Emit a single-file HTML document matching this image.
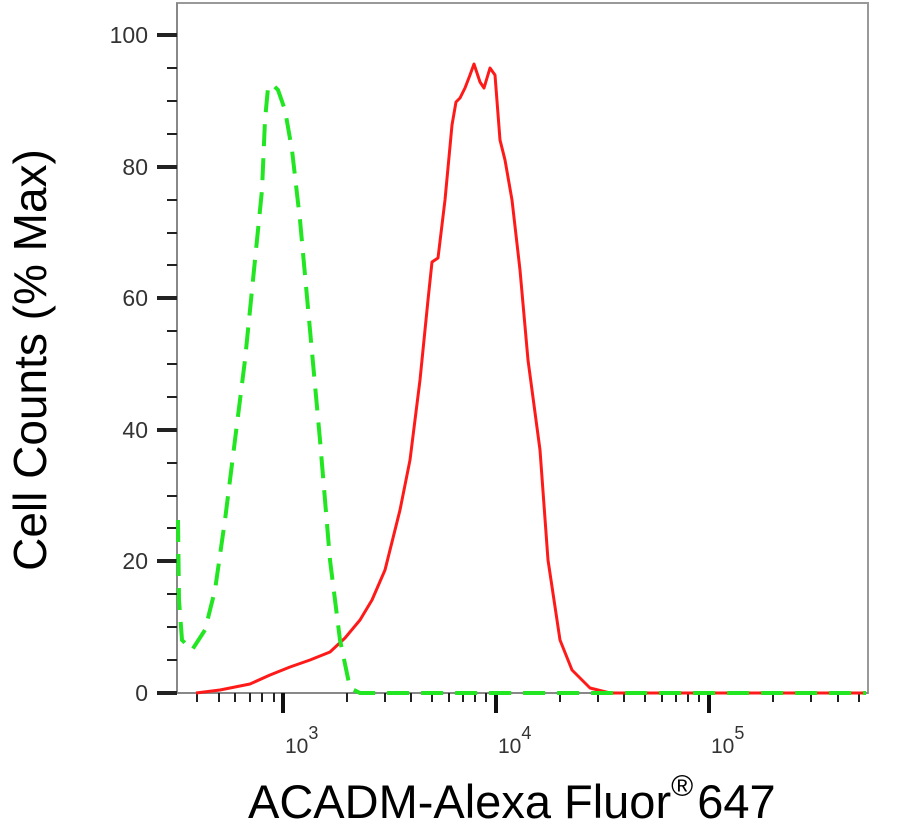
<!DOCTYPE html>
<html><head><meta charset="utf-8"><style>
html,body{margin:0;padding:0;background:#fff;}
svg{display:block;font-family:"Liberation Sans",Arial,sans-serif;}
</style></head><body>
<svg width="921" height="828" viewBox="0 0 921 828">
<rect x="177" y="3" width="691" height="690" fill="none" stroke="#999" stroke-width="2"/>
<line x1="177" y1="3" x2="177" y2="694" stroke="#888" stroke-width="2"/>
<line x1="176" y1="693" x2="868" y2="693" stroke="#888" stroke-width="2"/>
<g stroke="#222" stroke-width="4">
<line x1="157" y1="35" x2="177" y2="35"/><line x1="157" y1="167" x2="177" y2="167"/>
<line x1="157" y1="298" x2="177" y2="298"/><line x1="157" y1="430" x2="177" y2="430"/>
<line x1="157" y1="561" x2="177" y2="561"/><line x1="157" y1="693" x2="177" y2="693"/>
</g>
<g stroke="#222" stroke-width="2">
<line x1="167" y1="68" x2="177" y2="68"/><line x1="167" y1="101" x2="177" y2="101"/><line x1="167" y1="134" x2="177" y2="134"/>
<line x1="167" y1="200" x2="177" y2="200"/><line x1="167" y1="233" x2="177" y2="233"/><line x1="167" y1="265" x2="177" y2="265"/>
<line x1="167" y1="331" x2="177" y2="331"/><line x1="167" y1="364" x2="177" y2="364"/><line x1="167" y1="397" x2="177" y2="397"/>
<line x1="167" y1="463" x2="177" y2="463"/><line x1="167" y1="496" x2="177" y2="496"/><line x1="167" y1="528" x2="177" y2="528"/>
<line x1="167" y1="594" x2="177" y2="594"/><line x1="167" y1="627" x2="177" y2="627"/><line x1="167" y1="660" x2="177" y2="660"/>
</g>
<g font-size="23" fill="#333" text-anchor="end">
<text x="148" y="43">100</text><text x="148" y="175">80</text><text x="148" y="306">60</text>
<text x="148" y="438">40</text><text x="148" y="569">20</text><text x="148" y="701">0</text>
</g>
<g stroke="#222" stroke-width="2">
<line x1="197" y1="693" x2="197" y2="702"/><line x1="219" y1="693" x2="219" y2="702"/><line x1="235" y1="693" x2="235" y2="702"/>
<line x1="250" y1="693" x2="250" y2="702"/><line x1="262" y1="693" x2="262" y2="702"/><line x1="274" y1="693" x2="274" y2="702"/>
<line x1="347" y1="693" x2="347" y2="702"/><line x1="385" y1="693" x2="385" y2="702"/><line x1="411" y1="693" x2="411" y2="702"/>
<line x1="432" y1="693" x2="432" y2="702"/><line x1="449" y1="693" x2="449" y2="702"/><line x1="463" y1="693" x2="463" y2="702"/>
<line x1="475" y1="693" x2="475" y2="702"/><line x1="486" y1="693" x2="486" y2="702"/>
<line x1="560" y1="693" x2="560" y2="702"/><line x1="598" y1="693" x2="598" y2="702"/><line x1="624" y1="693" x2="624" y2="702"/>
<line x1="645" y1="693" x2="645" y2="702"/><line x1="662" y1="693" x2="662" y2="702"/><line x1="676" y1="693" x2="676" y2="702"/>
<line x1="688" y1="693" x2="688" y2="702"/><line x1="699" y1="693" x2="699" y2="702"/>
<line x1="773" y1="693" x2="773" y2="702"/><line x1="811" y1="693" x2="811" y2="702"/><line x1="838" y1="693" x2="838" y2="702"/><line x1="859" y1="693" x2="859" y2="702"/>
</g>
<g stroke="#111" stroke-width="4">
<line x1="283" y1="693" x2="283" y2="713"/><line x1="496" y1="693" x2="496" y2="713"/><line x1="709" y1="693" x2="709" y2="713"/>
</g>
<g font-size="21" fill="#333">
<text x="285" y="753">10<tspan dy="-14" font-size="18">3</tspan></text>
<text x="498" y="753">10<tspan dy="-14" font-size="18">4</tspan></text>
<text x="711" y="753">10<tspan dy="-14" font-size="18">5</tspan></text>
</g>
<polyline fill="none" stroke="#ff1a1a" stroke-width="3" stroke-linejoin="round" points="196,693 220,690 250,684 270,675 290,667 310,660 330,652 345,638 360,620 372,600 385,570 400,510 410,460 420,380 428,300 432,262 438,258 445,200 452,125 456,102 460,98 465,88 470,75 474,64 480,82 484,88 490,68 495,75 500,140 505,160 512,200 520,270 528,360 540,450 548,560 560,640 572,670 590,688 610,693 866,693"/>
<polyline fill="none" stroke="#22e622" stroke-width="4" stroke-dasharray="22,12" points="178,520 179,600 182,640 192,650 205,630 215,590 225,520 235,440 245,360 252,290 258,230 262,190 265,120 268,88 272,84 278,90 285,110 292,150 300,220 310,330 320,440 330,560 340,640 350,688 360,693 866,693"/>
<text x="0" y="0" font-size="46" fill="#000" text-anchor="middle" transform="translate(46,360) rotate(-90)">Cell Counts (% Max)</text>
<text x="248" y="818" font-size="47" fill="#000">ACADM-Alexa Fluor<tspan dy="-22" font-size="30">®</tspan><tspan dy="22" dx="4">647</tspan></text>
</svg>
</body></html>
